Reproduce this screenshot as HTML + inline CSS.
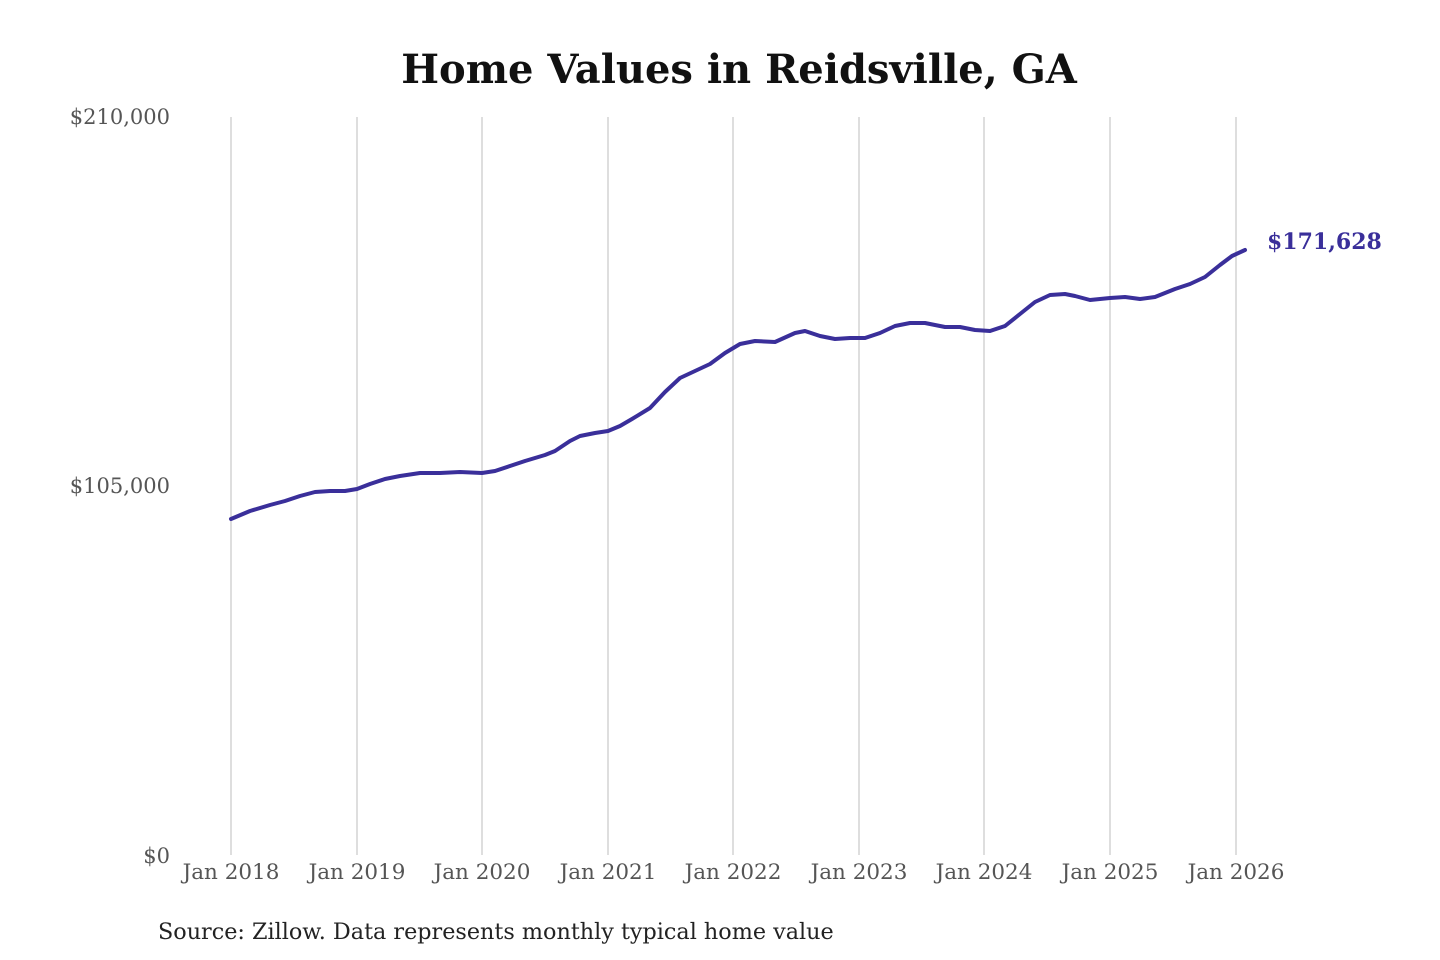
<!DOCTYPE html>
<html><head><meta charset="utf-8"><style>
html,body{margin:0;padding:0;background:#fff;}
svg{display:block;font-family:"DejaVu Serif","Liberation Serif",serif;}
</style></head><body>
<svg width="1440" height="960" viewBox="0 0 1440 960" xmlns="http://www.w3.org/2000/svg">
<rect width="1440" height="960" fill="#fff"/>
<text x="739" y="83" text-anchor="middle" font-size="40" font-weight="bold" fill="#111">Home Values in Reidsville, GA</text>
<g stroke="#c8c8c8" stroke-width="1.2">
<line x1="231" y1="117" x2="231" y2="855"/><line x1="357" y1="117" x2="357" y2="855"/>
<line x1="482" y1="117" x2="482" y2="855"/><line x1="608" y1="117" x2="608" y2="855"/>
<line x1="733" y1="117" x2="733" y2="855"/><line x1="859" y1="117" x2="859" y2="855"/>
<line x1="984" y1="117" x2="984" y2="855"/><line x1="1110" y1="117" x2="1110" y2="855"/>
<line x1="1236" y1="117" x2="1236" y2="855"/>
</g>
<g font-size="21" fill="#555" text-anchor="end">
<text x="170" y="124">$210,000</text>
<text x="170" y="493">$105,000</text>
<text x="170" y="863">$0</text>
</g>
<g font-size="21.5" fill="#555" text-anchor="middle">
<text x="231" y="879">Jan 2018</text><text x="357" y="879">Jan 2019</text>
<text x="482" y="879">Jan 2020</text><text x="608" y="879">Jan 2021</text>
<text x="733" y="879">Jan 2022</text><text x="859" y="879">Jan 2023</text>
<text x="984" y="879">Jan 2024</text><text x="1110" y="879">Jan 2025</text>
<text x="1236" y="879">Jan 2026</text>
</g>
<polyline fill="none" stroke="#3a2f9a" stroke-width="4" stroke-linejoin="round" stroke-linecap="round" points="231,519 250,511 270,505 285,501 300,496 315,492 330,491 345,491 357,489 370,484 385,479 400,476 420,473 440,473 460,472 482,473 495,471 510,466 525,461 545,455 555,451 570,441 580,436 595,433 608,431 620,426 632,419 650,408 665,392 680,378 695,371 710,364 725,353 740,344 755,341 775,342 795,333 805,331 820,336 835,339 850,338 865,338 880,333 895,326 910,323 925,323 945,327 960,327 975,330 990,331 1005,326 1020,314 1035,302 1050,295 1065,294 1075,296 1090,300 1110,298 1125,297 1140,299 1155,297 1175,289 1190,284 1205,277 1220,265 1232,256 1245,250"/>
<text x="1267" y="249" font-size="22" font-weight="bold" fill="#3a2f9a">$171,628</text>
<text x="158" y="939" font-size="22.3" fill="#222">Source: Zillow. Data represents monthly typical home value</text>
</svg>
</body></html>
